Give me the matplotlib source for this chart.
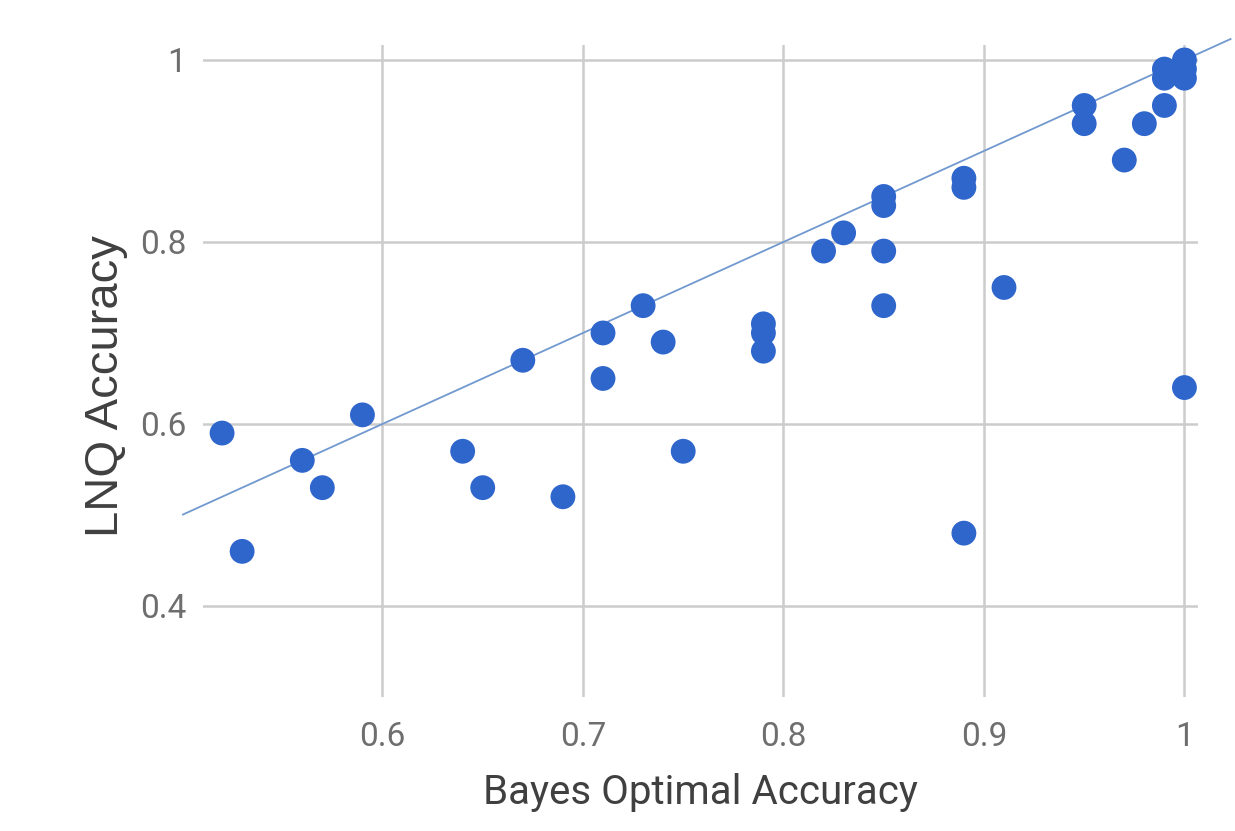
import matplotlib
matplotlib.use('Agg')
import matplotlib.pyplot as plt

# Bayes optimal accuracy vs LNQ accuracy
bayes = [0.52, 0.53, 0.56, 0.57, 0.59, 0.64, 0.65, 0.67, 0.69, 0.71,
         0.71, 0.73, 0.74, 0.75, 0.79, 0.79, 0.79, 0.82, 0.83, 0.85,
         0.85, 0.85, 0.85, 0.89, 0.89, 0.89, 0.91, 0.95, 0.95, 0.97,
         0.98, 0.99, 0.99, 0.99, 1.00, 1.00, 1.00, 1.00]
lnq = [0.59, 0.46, 0.56, 0.53, 0.61, 0.57, 0.53, 0.67, 0.52, 0.70,
       0.65, 0.73, 0.69, 0.57, 0.71, 0.70, 0.68, 0.79, 0.81, 0.85,
       0.84, 0.79, 0.73, 0.87, 0.86, 0.48, 0.75, 0.95, 0.93, 0.89,
       0.93, 0.95, 0.99, 0.98, 1.00, 0.99, 0.98, 0.64]

xticks = [0.6, 0.7, 0.8, 0.9, 1.0]
xtick_labels = ['0.6', '0.7', '0.8', '0.9', '1']
yticks = [0.4, 0.6, 0.8, 1.0]
ytick_labels = ['0.4', '0.6', '0.8', '1']
line_x = [0.5005, 1.023]

fig = plt.figure(figsize=(12.35, 8.31), dpi=100)
ax = fig.add_axes([0.1644, 0.1613, 0.8057, 0.7846])

ax.set_xlim(0.5105, 1.0068)
ax.set_ylim(0.300, 1.0165)

ax.grid(True, color='#cccccc', linewidth=1.8)
ax.set_axisbelow(True)
for s in ax.spines.values():
    s.set_visible(False)

# y = x reference line
ax.plot(line_x, line_x, color='#7199cf', linewidth=1.3, clip_on=False, zorder=2)
ax.scatter(bayes, lnq, s=320, color='#2f66cc', edgecolors='none',
           clip_on=False, zorder=3)

ax.set_xticks(xticks)
ax.set_xticklabels(xtick_labels)
ax.set_yticks(yticks)
ax.set_yticklabels(ytick_labels)
ax.tick_params(length=0, labelsize=24, labelcolor='#6e6e6e')
ax.tick_params(axis='x', pad=17)
ax.tick_params(axis='y', pad=12)
for lab in ax.get_xticklabels() + ax.get_yticklabels():
    lab.set_family('Roboto')

fig.text(700 / 1235, 1 - 793 / 831, 'Bayes Optimal Accuracy', ha='center',
         va='center', fontsize=29, color='#404040', family='Roboto')
fig.text(106 / 1235, 1 - 386 / 831, 'LNQ Accuracy', ha='center', va='center',
         rotation=90, fontsize=34, color='#404040', family='Liberation Sans')

fig.savefig('out.png', dpi=100)
